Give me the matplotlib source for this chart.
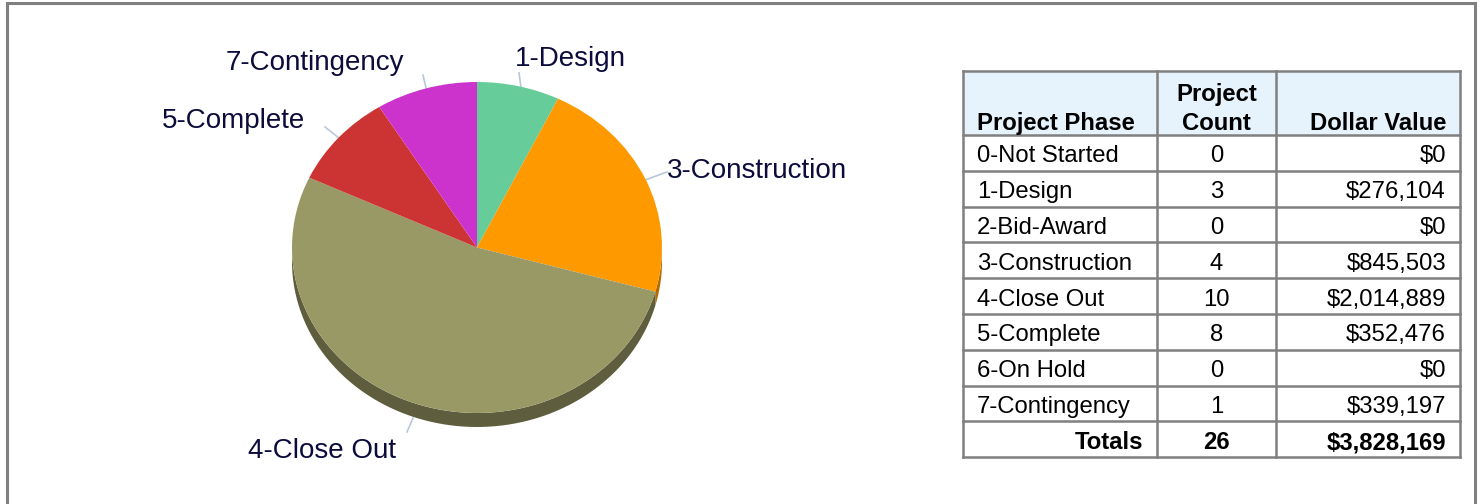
import numpy as np
import matplotlib.pyplot as plt
from matplotlib.patches import Rectangle

plt.rcParams['font.family'] = ['Liberation Sans', 'DejaVu Sans']

# data
phases = ['0-Not Started', '1-Design', '2-Bid-Award', '3-Construction',
          '4-Close Out', '5-Complete', '6-On Hold', '7-Contingency']
counts = [0, 3, 0, 4, 10, 8, 0, 1]
dollars = [0, 276104, 0, 845503, 2014889, 352476, 0, 339197]

pie_colors = {'1-Design': '#66cc99', '3-Construction': '#ff9900',
              '4-Close Out': '#999966', '5-Complete': '#cc3333',
              '7-Contingency': '#cc33cc'}
side_colors = {'1-Design': '#478f6b', '3-Construction': '#b36b00',
               '4-Close Out': '#5e5e3f', '5-Complete': '#8f2424',
               '7-Contingency': '#8f248f'}

W, H = 1481, 504
fig = plt.figure(figsize=(W / 100, H / 100), dpi=100)
bg = fig.add_axes([0, 0, 1, 1])
bg.set_xlim(0, W)
bg.set_ylim(H, 0)
bg.axis('off')

# outer frame
bg.plot([7, 7, 1475, 1475], [H + 5, 3, 3, H + 5], color='#808080', lw=2.2,
        solid_joinstyle='miter')

# ---- pie (3D-ish ellipse) ----
cx, cy, rx, ry = 477, 247.5, 185, 165.5
m = 1.3
pax = fig.add_axes([(cx - rx * m) / W, (H - cy - ry * m) / H,
                    2 * rx * m / W, 2 * ry * m / H])
names = [p for p, d in zip(phases, dollars) if d > 0]
vals = [d for d in dollars if d > 0]
pax.pie(vals, colors=[pie_colors[n] for n in names], startangle=90,
        counterclock=False, wedgeprops=dict(linewidth=0))
pax.set_aspect('auto')
pax.set_xlim(-m, m)
pax.set_ylim(-m, m)
pax.axis('off')

depth = 14 / ry
frac = np.cumsum([0] + vals) / sum(vals)
for i, n in enumerate(names):
    a_hi = 90 - 360 * frac[i]
    a_lo = 90 - 360 * frac[i + 1]
    lo, hi = max(a_lo, -180), min(a_hi, 0)
    if hi <= lo:
        continue
    t = np.radians(np.linspace(lo, hi, 100))
    xs = np.concatenate([np.cos(t), np.cos(t[::-1])])
    ys = np.concatenate([np.sin(t), np.sin(t[::-1]) - depth])
    pax.fill(xs, ys, color=side_colors[n], lw=0, zorder=0.5)

# labels with leader lines (pixel coords)
label_pos = {'1-Design': (570, 56, 'center', [(519, 73), (521, 87)]),
             '3-Construction': (667, 168, 'left', [(667, 172), (645, 180)]),
             '4-Close Out': (322, 448, 'center', [(407, 432), (413, 418)]),
             '5-Complete': (233, 118, 'center', [(325, 127), (339, 138)]),
             '7-Contingency': (315, 60, 'center', [(423, 75), (426, 88)])}
for n in names:
    x, y, ha, line = label_pos[n]
    bg.plot([line[0][0], line[1][0]], [line[0][1], line[1][1]],
            color='#b8c8dc', lw=1.2)
    bg.text(x, y, n, ha=ha, va='center_baseline', fontsize=20,
            color='#0c0c3c')

# ---- table ----
col_x = [963, 1157, 1276, 1460]
row_y = [71, 135] + [135 + 35.8 * (k + 1) for k in range(9)]
grid = '#808080'
bg.add_patch(Rectangle((col_x[0], row_y[0]), col_x[-1] - col_x[0],
                       row_y[1] - row_y[0], color='#e6f2fc', lw=0))
pad = 14
fs = 17.2
vb = 'center_baseline'
hy = 121
bg.text(col_x[0] + pad, hy, 'Project Phase', ha='left', va=vb,
        fontsize=fs, fontweight='bold')
bg.text((col_x[1] + col_x[2]) / 2, 92, 'Project', ha='center', va=vb,
        fontsize=fs, fontweight='bold')
bg.text((col_x[1] + col_x[2]) / 2, hy, 'Count', ha='center', va=vb,
        fontsize=fs, fontweight='bold')
bg.text(col_x[3] - pad, hy, 'Dollar Value', ha='right', va=vb,
        fontsize=fs, fontweight='bold')

for k, (p, c, d) in enumerate(zip(phases, counts, dollars)):
    y = (row_y[k + 1] + row_y[k + 2]) / 2 + 1
    bg.text(col_x[0] + pad, y, p, ha='left', va=vb, fontsize=fs)
    bg.text((col_x[1] + col_x[2]) / 2, y, str(c), ha='center', va=vb,
            fontsize=fs)
    bg.text(col_x[3] - pad, y, f'${d:,}', ha='right', va=vb, fontsize=fs)

y = (row_y[-2] + row_y[-1]) / 2 + 1
bg.text(col_x[1] - pad, y, 'Totals', ha='right', va=vb, fontsize=fs,
        fontweight='bold')
bg.text((col_x[1] + col_x[2]) / 2, y, str(sum(counts)), ha='center',
        va=vb, fontsize=fs, fontweight='bold')
bg.text(col_x[3] - pad, y, f'${sum(dollars):,}', ha='right', va=vb,
        fontsize=fs, fontweight='bold')

for yy in row_y:
    bg.plot([col_x[0], col_x[-1]], [yy, yy], color=grid, lw=1.8,
            solid_capstyle='projecting')
for xx in col_x:
    bg.plot([xx, xx], [row_y[0], row_y[-1]], color=grid, lw=1.8,
            solid_capstyle='projecting')

fig.savefig('out.png', dpi=100)
